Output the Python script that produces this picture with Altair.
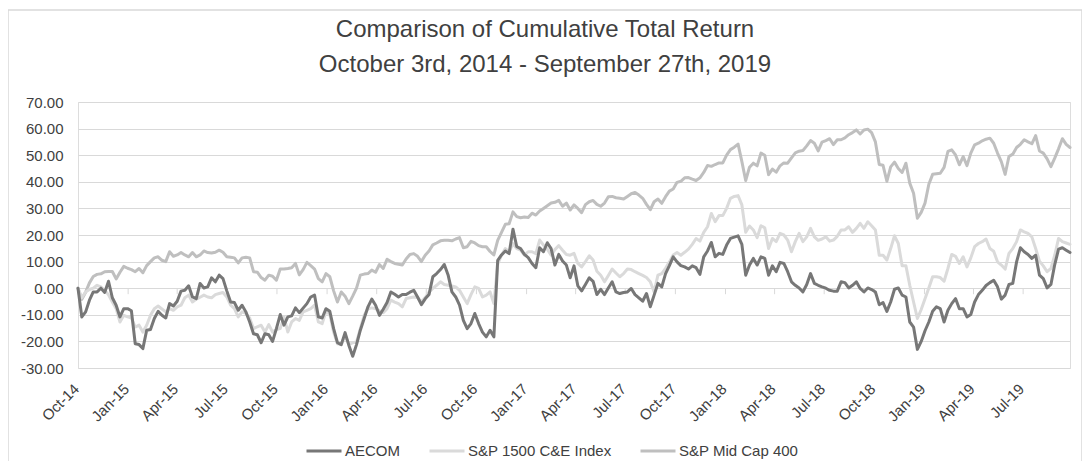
import altair as alt
import pandas as pd

# ---------------- data ----------------
start_date = "2014-10-03"  # weekly observations, 261 weeks to 2019-09-27

aecom = [
    0.0, -10.8, -8.9, -4.5, -1.4, -1.4, 0.0, -1.6, 2.6, -3.6,
    -6.4, -10.8, -7.7, -7.7, -8.5, -20.9, -21.2, -22.7, -15.8, -15.5,
    -11.4, -8.7, -10.2, -11.2, -5.8, -6.7, -4.9, -1.1, -0.8, 0.9,
    -3.3, -3.9, 1.8, 0.1, 0.5, 3.9, 2.4, 4.9, 3.6, -1.0,
    -5.2, -5.4, -8.3, -6.4, -8.9, -12.7, -17.1, -17.5, -20.5, -17.1,
    -17.5, -20.0, -15.2, -9.9, -13.9, -10.8, -10.4, -7.4, -9.2, -7.5,
    -5.8, -3.3, -2.6, -10.8, -11.2, -7.7, -8.7, -15.2, -20.5, -21.2,
    -16.7, -21.5, -25.6, -21.2, -15.8, -11.4, -7.0, -4.1, -6.4, -10.2,
    -7.9, -5.4, -1.4, -2.3, -3.3, -2.4, -2.4, -1.5, -0.8, -3.3,
    -6.2, -4.0, -2.4, 4.3, 5.5, 7.0, 8.9, 5.0, -1.4, -3.3,
    -6.4, -12.1, -15.2, -13.3, -9.5, -13.3, -16.5, -18.3, -15.8, -18.3,
    10.5, 12.5, 14.0, 13.0, 22.2, 15.6, 14.9, 12.7, 11.5, 9.3,
    7.7, 15.2, 13.7, 17.1, 14.9, 8.7, 12.7, 10.2, 8.7, 3.9,
    8.4, 0.9, -1.0, 1.4, 3.9, 2.6, -2.4, -0.4, -2.4, 0.1,
    2.4, -1.4, -2.0, -1.6, -1.4, -0.1, -2.4, -3.6, -4.9, -2.0,
    -7.0, -2.6, 1.8, 0.5, 5.5, 8.5, 11.8, 9.9, 8.5, 8.0,
    7.2, 8.4, 7.7, 5.2, 11.8, 14.0, 17.2, 11.8, 13.1, 12.7,
    16.2, 18.7, 19.2, 19.7, 16.5, 4.9, 8.7, 11.2, 8.7, 11.8,
    11.2, 4.9, 8.4, 6.2, 9.7, 9.3, 6.2, 2.4, 1.1, 0.1,
    -1.4, 1.4, 5.5, 1.8, 1.1, 0.5, 0.0, -0.8, -1.1, -1.1,
    2.4, 2.1, 0.1, 1.1, 2.4, -0.1, -1.4, 0.1, -0.5, -1.4,
    -6.2, -5.4, -8.7, -5.2, -0.4, 0.1, -2.6, -3.3, -12.7, -14.6,
    -23.0, -20.0, -16.0, -12.7, -8.7, -7.0, -7.7, -12.7, -8.3, -5.8,
    -3.9, -7.7, -7.7, -10.8, -9.9, -5.2, -2.4, -0.8, 1.0, 2.1,
    3.0, 0.5, -4.1, -2.6, 1.4, 1.8, 9.9, 15.2, 13.7, 12.7,
    11.2, 12.4, 4.9, 3.6, 0.1, 1.4, 8.9, 14.7, 15.2, 14.3, 13.4,
]

sp1500_ce = [
    0.0, -3.6, -1.4, -0.5, 0.0, 1.1, 0.5, -0.8, -2.5, -5.2,
    -7.7, -12.7, -10.2, -10.8, -11.2, -14.6, -13.9, -16.5, -13.9, -10.2,
    -7.7, -6.7, -7.8, -8.9, -7.7, -8.3, -7.0, -6.4, -3.6, -2.6,
    -5.2, -4.1, -3.4, -2.6, -3.3, -3.6, -2.4, -2.0, -1.6, -3.3,
    -6.4, -7.7, -10.8, -8.9, -9.5, -11.2, -15.2, -14.5, -13.9, -16.5,
    -13.7, -16.5, -15.5, -15.2, -10.8, -16.5, -12.7, -11.4, -12.1, -8.9,
    -8.3, -7.7, -6.4, -12.7, -13.3, -8.7, -9.9, -16.5, -20.9, -21.2,
    -17.6, -21.2, -20.5, -20.2, -15.2, -10.2, -7.7, -7.4, -7.7, -8.5,
    -9.2, -7.7, -4.5, -5.2, -5.8, -7.0, -3.9, -3.6, -3.3, -3.5,
    -5.2, -3.5, -1.5, -0.1, 1.1, 2.4, 1.4, 1.1, 0.8, 0.5,
    -0.8, -3.3, -5.8, -2.4, 0.5, -0.1, -3.3, -2.6, -1.4, -5.8,
    9.0, 12.4, 14.9, 13.7, 16.8, 14.9, 14.3, 12.4, 13.7, 13.7,
    13.0, 18.1, 16.2, 14.7, 12.4, 14.5, 16.0, 14.3, 12.7, 12.4,
    13.1, 9.3, 8.0, 10.0, 12.2, 10.6, 6.4, 4.9, 2.4, 4.8,
    7.2, 5.7, 4.3, 5.5, 7.2, 7.0, 6.2, 5.5, 4.8, 4.0,
    2.4, -1.4, 4.9, 5.5, 7.5, 9.9, 12.5, 13.4, 12.4, 13.5,
    14.7, 16.5, 18.7, 17.7, 21.0, 23.1, 28.1, 25.0, 27.3, 27.3,
    30.0, 33.8, 34.5, 34.8, 31.3, 21.0, 23.4, 21.9, 19.0, 23.5,
    22.7, 14.9, 18.7, 17.5, 20.6, 20.0, 18.1, 13.7, 17.5, 20.6,
    17.5, 19.3, 22.5, 19.3, 18.0, 18.5, 19.3, 17.7, 18.1, 19.5,
    21.9, 21.9, 23.1, 21.0, 22.5, 24.4, 22.5, 25.0, 23.5, 21.9,
    12.4, 12.4, 10.6, 14.9, 19.7, 16.8, 8.4, 8.4, 1.1, -5.2,
    -11.4, -8.0, -4.0, 0.1, 4.3, 4.3, 4.0, 2.6, 7.4, 12.7,
    12.0, 9.3, 11.8, 8.0, 11.4, 15.6, 16.8, 17.5, 18.5, 14.9,
    13.9, 9.9, 8.7, 7.2, 13.1, 14.9, 17.5, 21.9, 21.2, 20.6,
    19.3, 14.9, 10.2, 8.4, 6.2, 7.4, 12.4, 18.7, 17.5, 17.0, 16.5,
]

sp_midcap_400 = [
    0.0, -4.2, -1.5, 2.0, 4.4, 5.2, 5.4, 6.2, 6.3, 6.3,
    3.5, 6.0, 8.2, 7.5, 7.0, 6.2, 7.4, 5.8, 8.5, 10.0,
    11.4, 11.8, 10.5, 10.0, 13.7, 12.0, 12.5, 13.4, 12.5, 11.8,
    13.4, 11.8, 12.5, 14.0, 13.4, 13.2, 13.5, 14.3, 13.5, 11.8,
    11.6, 11.4, 9.5, 11.4, 11.6, 11.4, 6.2, 6.0, 4.0, 3.0,
    4.9, 4.5, 3.0, 7.2, 7.2, 7.4, 7.7, 9.3, 5.0, 7.0,
    9.7, 8.5, 7.2, 3.6, 2.4, 5.5, 4.3, -1.0, -5.2, -1.4,
    -3.0, -5.8, -3.0, 0.0, 4.9, 5.3, 5.5, 6.8, 6.0, 8.9,
    7.4, 10.9, 10.0, 9.3, 9.0, 8.7, 11.0, 12.7, 13.0, 12.0,
    10.0, 12.4, 14.0, 16.3, 17.0, 17.8, 18.0, 18.0, 17.8, 18.5,
    19.0, 15.2, 15.6, 17.6, 17.0, 16.0, 15.6, 15.6, 13.8, 12.5,
    18.0, 21.0, 24.0, 24.2, 28.7, 26.9, 26.5, 26.8, 26.6, 28.2,
    27.5, 29.0, 30.0, 31.0, 32.0, 32.3, 33.0, 30.8, 32.0, 29.4,
    31.3, 30.0, 28.4, 31.4, 32.5, 33.0, 31.5, 30.8, 32.0, 34.4,
    34.5, 34.0, 33.8, 33.5, 34.5, 35.5, 36.0, 35.0, 33.8, 31.5,
    29.5, 32.5, 33.5, 31.9, 34.4, 36.5, 37.3, 39.8, 40.2, 41.5,
    41.6, 41.0, 40.5, 41.5, 43.5, 46.1, 45.8, 46.5, 47.1, 47.1,
    50.0, 52.1, 53.0, 54.2, 47.6, 40.5, 45.5, 47.0, 46.0, 50.8,
    50.0, 42.7, 44.8, 43.6, 46.0, 47.1, 47.0, 49.0, 50.9, 51.5,
    51.8, 53.5, 55.5, 54.5, 51.6, 54.9, 55.5, 56.2, 54.0, 55.8,
    55.8, 56.5, 57.7, 58.5, 59.5, 58.0, 59.5, 59.8, 58.5, 55.0,
    46.5, 46.2, 40.2, 45.6, 47.4, 45.0, 43.5, 47.0, 39.5, 35.7,
    26.3, 28.5, 32.0, 39.1, 42.8, 43.0, 43.2, 45.4, 51.4, 52.0,
    50.1, 46.4, 49.5, 46.1, 50.8, 53.9, 54.5, 55.4, 56.0, 56.4,
    54.5, 50.8, 47.6, 42.8, 49.5, 50.4, 52.9, 54.1, 55.8, 55.0,
    54.3, 57.4, 51.6, 50.8, 48.6, 45.7, 48.9, 52.4, 56.2, 54.1, 52.9,
]

series_names = ["AECOM", "S&P 1500 C&E Index", "S&P Mid Cap 400"]
series_colors = ["#777777", "#dadada", "#bfbfbf"]

x_tick_dates = [
    "2014-10-03", "2015-01-03", "2015-04-03", "2015-07-03",
    "2015-10-03", "2016-01-03", "2016-04-03", "2016-07-03",
    "2016-10-03", "2017-01-03", "2017-04-03", "2017-07-03",
    "2017-10-03", "2018-01-03", "2018-04-03", "2018-07-03",
    "2018-10-03", "2019-01-03", "2019-04-03", "2019-07-03",
]
y_tick_values = [-30, -20, -10, 0, 10, 20, 30, 40, 50, 60, 70]

title_lines = ["Comparison of Cumulative Total Return",
               "October 3rd, 2014 - September 27th, 2019"]

# ---------------- build tables ----------------
n = len(aecom)
assert n == len(sp1500_ce) == len(sp_midcap_400) == 261, (len(aecom), len(sp1500_ce), len(sp_midcap_400))
dates = pd.date_range(start_date, periods=n, freq="7D").strftime("%Y-%m-%d")
frames = []
for name, vals in zip(series_names, [aecom, sp1500_ce, sp_midcap_400]):
    frames.append(pd.DataFrame({"date": list(dates), "value": vals, "series": name}))
df = pd.concat(frames, ignore_index=True)
ticks_df = pd.DataFrame({"date": x_tick_dates})
frame_df = pd.DataFrame({"k": [0]})


def to_dt(s):
    y, m, d = (int(p) for p in s.split("-"))
    return alt.DateTime(year=y, month=m, date=d, utc=True)


FONT = "Liberation Sans"
TXT = "#404040"
GRID = "#d9d9d9"

W, H = 992, 266

x_scale = alt.Scale(type="utc", domain=[to_dt(dates[0]), to_dt(dates[-1])])
x_axis = alt.Axis(
    values=[to_dt(s) for s in x_tick_dates],
    labelExpr="utcFormat(datum.value, '%b-%y')",
    labelAngle=-45,
    labelAlign="right",
    labelBaseline="middle",
    labelPadding=18,
    labelOffset=-2,
    labelFontSize=15,
    labelFont=FONT,
    labelColor=TXT,
    ticks=False,
    tickSize=0,
    domain=False,
    grid=False,
    title=None,
    labelOverlap=False,
)
y_scale = alt.Scale(domain=[-30, 70], nice=False, zero=False)
y_axis = alt.Axis(
    values=y_tick_values,
    labelExpr="replace(format(datum.value, '.2f'), '\u2212', '-')",
    labelFontSize=15,
    labelFont=FONT,
    labelColor=TXT,
    labelPadding=15,
    labelOverlap=False,
    ticks=False,
    tickSize=0,
    domain=False,
    grid=True,
    gridColor=GRID,
    gridWidth=1,
    title=None,
)

x_enc = alt.X("date:T", scale=x_scale, axis=x_axis)
y_enc = alt.Y("value:Q", scale=y_scale, axis=y_axis)
color_enc = alt.Color(
    "series:N",
    scale=alt.Scale(domain=series_names, range=series_colors),
    legend=alt.Legend(
        orient="none",
        legendX=227,
        legendY=330,
        direction="horizontal",
        title=None,
        symbolType="stroke",
        symbolStrokeWidth=3,
        symbolSize=1225,
        labelFontSize=15,
        labelFont=FONT,
        labelColor=TXT,
        labelOffset=2,
        columnPadding=22,
    ),
)

border = alt.Chart(frame_df).mark_rect(
    filled=False, stroke="#d9d9d9", strokeWidth=1.5
).encode(
    x=alt.value(-70), x2=alt.value(1004), y=alt.value(-92), y2=alt.value(361)
)

tick_marks = alt.Chart(ticks_df).mark_rule(color=GRID, strokeWidth=1, y2Offset=6).encode(
    x=alt.X("date:T", scale=x_scale, axis=x_axis),
    y=alt.YDatum(0, scale=y_scale, axis=y_axis),
    y2=alt.Y2Datum(0),
)


def line_layer(name):
    return alt.Chart(df).transform_filter(
        alt.datum.series == name
    ).mark_line(strokeWidth=3, strokeJoin="round", strokeCap="round").encode(
        x=x_enc, y=y_enc, color=color_enc
    )


chart = alt.layer(
    border,
    tick_marks,
    line_layer("S&P Mid Cap 400"),
    line_layer("S&P 1500 C&E Index"),
    line_layer("AECOM"),
).properties(
    width=W,
    height=H,
    title=alt.TitleParams(
        text=title_lines,
        fontSize=24,
        font=FONT,
        fontWeight="normal",
        color=TXT,
        anchor="middle",
        frame="bounds",
        baseline="alphabetic",
        lineHeight=35,
        offset=-87,
    ),
    autosize=alt.AutoSizeParams(type="none"),
    padding={"left": 70, "top": 94, "right": 12, "bottom": 93},
).configure_view(
    stroke=None
).configure(
    background="white"
)

chart.save("out.html", embed_options={"renderer": "svg", "actions": False})
